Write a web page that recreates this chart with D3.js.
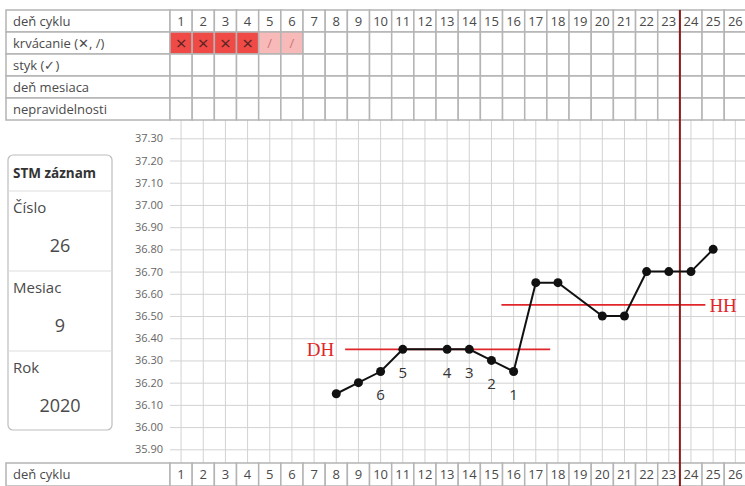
<!DOCTYPE html>
<html>
<head>
<meta charset="utf-8">
<script src="https://cdn.jsdelivr.net/npm/d3@7"></script>
<style>
  html, body { margin: 0; padding: 0; background: #fff; }
  svg { display: block; font-family: "Open Sans", "Noto Sans", sans-serif; }
</style>
</head>
<body>
<div id="chart"></div>
<script>
// cycle days (columns)
const days = [1, 2, 3, 4, 5, 6, 7, 8, 9, 10, 11, 12, 13, 14, 15, 16, 17, 18, 19, 20, 21, 22, 23, 24, 25, 26];
const rowLabels = ['deň cyklu', 'krvácanie (✕, /)', 'styk (✓)', 'deň mesiaca', 'nepravidelnosti'];
const bleedDays = [1, 2, 3, 4, 5, 6];
const bleedMarks = ['×', '×', '×', '×', '/', '/'];

// basal temperature readings
const tempDays = [8, 9, 10, 11, 13, 14, 15, 16, 17, 18, 20, 21, 22, 23, 24, 25];
const temps = [36.15, 36.20, 36.25, 36.35, 36.35, 36.35, 36.30, 36.25, 36.65, 36.65, 36.50, 36.50, 36.70, 36.70, 36.70, 36.80];

// numbered low temps before the shift
const lowDays = [16, 15, 14, 13, 11, 10];
const lowLabels = ['1', '2', '3', '4', '5', '6'];

// cover lines
const coverNames = ['DH', 'HH'];
const coverValues = [36.35, 36.55];
const coverFrom = [8.4, 15.45];
const coverTo = [17.65, 24.65];

const ovulationDay = 24;
const yTicks = [35.90, 36.00, 36.10, 36.20, 36.30, 36.40, 36.50, 36.60, 36.70, 36.80, 36.90, 37.00, 37.10, 37.20, 37.30];

const stmTitle = 'STM záznam';
const stmFields = ['Číslo', 'Mesiac', 'Rok'];
const stmValues = ['26', '9', '2020'];

const W = 745, H = 486;
const svg = d3.select('#chart').append('svg').attr('width', W).attr('height', H);

const x = d3.scaleLinear().domain([0.5, 26.5]).range([170, 746.4]);
const y = d3.scaleLinear().domain([35.90, 37.30]).range([449.3, 138.3]);
const colW = x(1.5) - x(0.5);

const borderColor = '#b4b4b4';
const textColor = '#4a4a4a';

// ---- chart grid ----
const grid = svg.append('g');
grid.selectAll('.vline')
    .data(days)
    .enter().append('line')
    .attr('x1', d => x(d)).attr('x2', d => x(d))
    .attr('y1', 120).attr('y2', 463)
    .attr('stroke', '#d2d2d2').attr('stroke-width', 1);

const yAxis = d3.axisLeft(y)
    .tickValues(yTicks)
    .tickSize(-(746 - 170))
    .tickPadding(7)
    .tickFormat(d3.format('.2f'));
const yg = svg.append('g').attr('transform', 'translate(170,0)').call(yAxis);
yg.select('.domain').remove();
yg.selectAll('.tick line').attr('stroke', '#d2d2d2').attr('stroke-width', 1);
yg.selectAll('.tick text')
    .attr('fill', '#666')
    .style('font-size', '11px')
    .style('font-family', '"Open Sans", sans-serif');

// ---- tables ----
function drawTable(top, labels, rowH) {
    const g = svg.append('g');
    labels.forEach((label, i) => {
        const ty = top + i * rowH;
        g.append('rect')
            .attr('x', 6).attr('y', ty)
            .attr('width', 164).attr('height', rowH)
            .attr('fill', '#fff').attr('stroke', borderColor).attr('stroke-width', 1.5);
        g.append('text')
            .attr('x', 13).attr('y', ty + rowH / 2)
            .attr('dy', '0.35em')
            .attr('fill', textColor)
            .style('font-size', '13px')
            .text(label);
        g.selectAll(null)
            .data(days)
            .enter().append('rect')
            .attr('x', d => x(d) - colW / 2).attr('y', ty)
            .attr('width', colW).attr('height', rowH)
            .attr('fill', d => {
                const k = bleedDays.indexOf(d);
                if (i !== 1 || k < 0) return '#fff';
                return bleedMarks[k] === '/' ? '#f8b9b9' : '#ef4a46';
            })
            .attr('stroke', borderColor).attr('stroke-width', 1.5);
        if (i === 0) {
            g.selectAll(null)
                .data(days)
                .enter().append('text')
                .attr('x', d => x(d)).attr('y', ty + rowH / 2)
                .attr('dy', '0.35em')
                .attr('text-anchor', 'middle')
                .attr('fill', textColor)
                .style('font-size', '13px')
                .text(d => d);
        }
        if (i === 1) {
            g.selectAll(null)
                .data(bleedDays)
                .enter().append('text')
                .attr('x', d => x(d)).attr('y', ty + rowH / 2)
                .attr('dy', '0.35em')
                .attr('text-anchor', 'middle')
                .attr('fill', (d, k) => bleedMarks[k] === '/' ? '#c77' : '#5a2422')
                .style('font-size', (d, k) => bleedMarks[k] === '/' ? '13px' : '19px')
                .text((d, k) => bleedMarks[k]);
        }
    });
}
drawTable(10, rowLabels, 22);
drawTable(463, [rowLabels[0]], 23);

// ---- cover lines ----
const cover = svg.append('g');
coverNames.forEach((name, i) => {
    cover.append('line')
        .attr('x1', x(coverFrom[i])).attr('x2', x(coverTo[i]))
        .attr('y1', y(coverValues[i])).attr('y2', y(coverValues[i]))
        .attr('stroke', '#e0262a').attr('stroke-width', 1.6);
});
cover.append('text')
    .attr('x', x(coverFrom[0]) - 11).attr('y', y(coverValues[0]))
    .attr('dy', '0.35em').attr('text-anchor', 'end')
    .attr('fill', '#e0262a')
    .style('font-family', '"Liberation Serif", "DejaVu Serif", serif')
    .style('font-size', '19px')
    .text(coverNames[0]);
cover.append('text')
    .attr('x', x(coverTo[1]) + 4).attr('y', y(coverValues[1]))
    .attr('dy', '0.35em').attr('text-anchor', 'start')
    .attr('fill', '#e0262a')
    .style('font-family', '"Liberation Serif", "DejaVu Serif", serif')
    .style('font-size', '19px')
    .text(coverNames[1]);

// ---- ovulation marker ----
svg.append('line')
    .attr('x1', x(ovulationDay - 0.5)).attr('x2', x(ovulationDay - 0.5))
    .attr('y1', 10).attr('y2', H)
    .attr('stroke', '#8b1a1a').attr('stroke-width', 2);

// ---- temperature line ----
const points = tempDays.map((d, i) => ({ day: d, t: temps[i] }));
const line = d3.line().x(d => x(d.day)).y(d => y(d.t));
svg.append('path')
    .datum(points)
    .attr('fill', 'none')
    .attr('stroke', '#111')
    .attr('stroke-width', 2)
    .attr('d', line);
svg.selectAll('.dot')
    .data(points)
    .enter().append('circle')
    .attr('cx', d => x(d.day)).attr('cy', d => y(d.t))
    .attr('r', 4.5)
    .attr('fill', '#111');

// numbers under the low readings
svg.selectAll('.lowlbl')
    .data(lowDays)
    .enter().append('text')
    .attr('x', d => x(d)).attr('y', d => y(temps[tempDays.indexOf(d)]) + 23)
    .attr('dy', '0.35em')
    .attr('text-anchor', 'middle')
    .attr('fill', '#333')
    .style('font-size', '15px')
    .text((d, i) => lowLabels[i]);

// ---- STM panel ----
const panel = svg.append('g');
panel.append('rect')
    .attr('x', 8).attr('y', 155).attr('width', 104).attr('height', 275)
    .attr('rx', 5)
    .attr('fill', '#fff').attr('stroke', '#bdbdbd').attr('stroke-width', 1.2);
panel.append('text')
    .attr('x', 13).attr('y', 173).attr('dy', '0.35em')
    .attr('fill', '#333').style('font-size', '13.5px').style('font-weight', 'bold')
    .text(stmTitle);
stmFields.forEach((f, i) => {
    const top = 191 + i * 80;
    panel.append('line')
        .attr('x1', 8).attr('x2', 112).attr('y1', top).attr('y2', top)
        .attr('stroke', '#ddd').attr('stroke-width', 1);
    panel.append('text')
        .attr('x', 13).attr('y', top + 17).attr('dy', '0.35em')
        .attr('fill', textColor).style('font-size', '15px')
        .text(f);
    panel.append('text')
        .attr('x', 60).attr('y', top + 55).attr('dy', '0.35em')
        .attr('text-anchor', 'middle')
        .attr('fill', textColor).style('font-size', '18px')
        .text(stmValues[i]);
});
</script>
</body>
</html>
